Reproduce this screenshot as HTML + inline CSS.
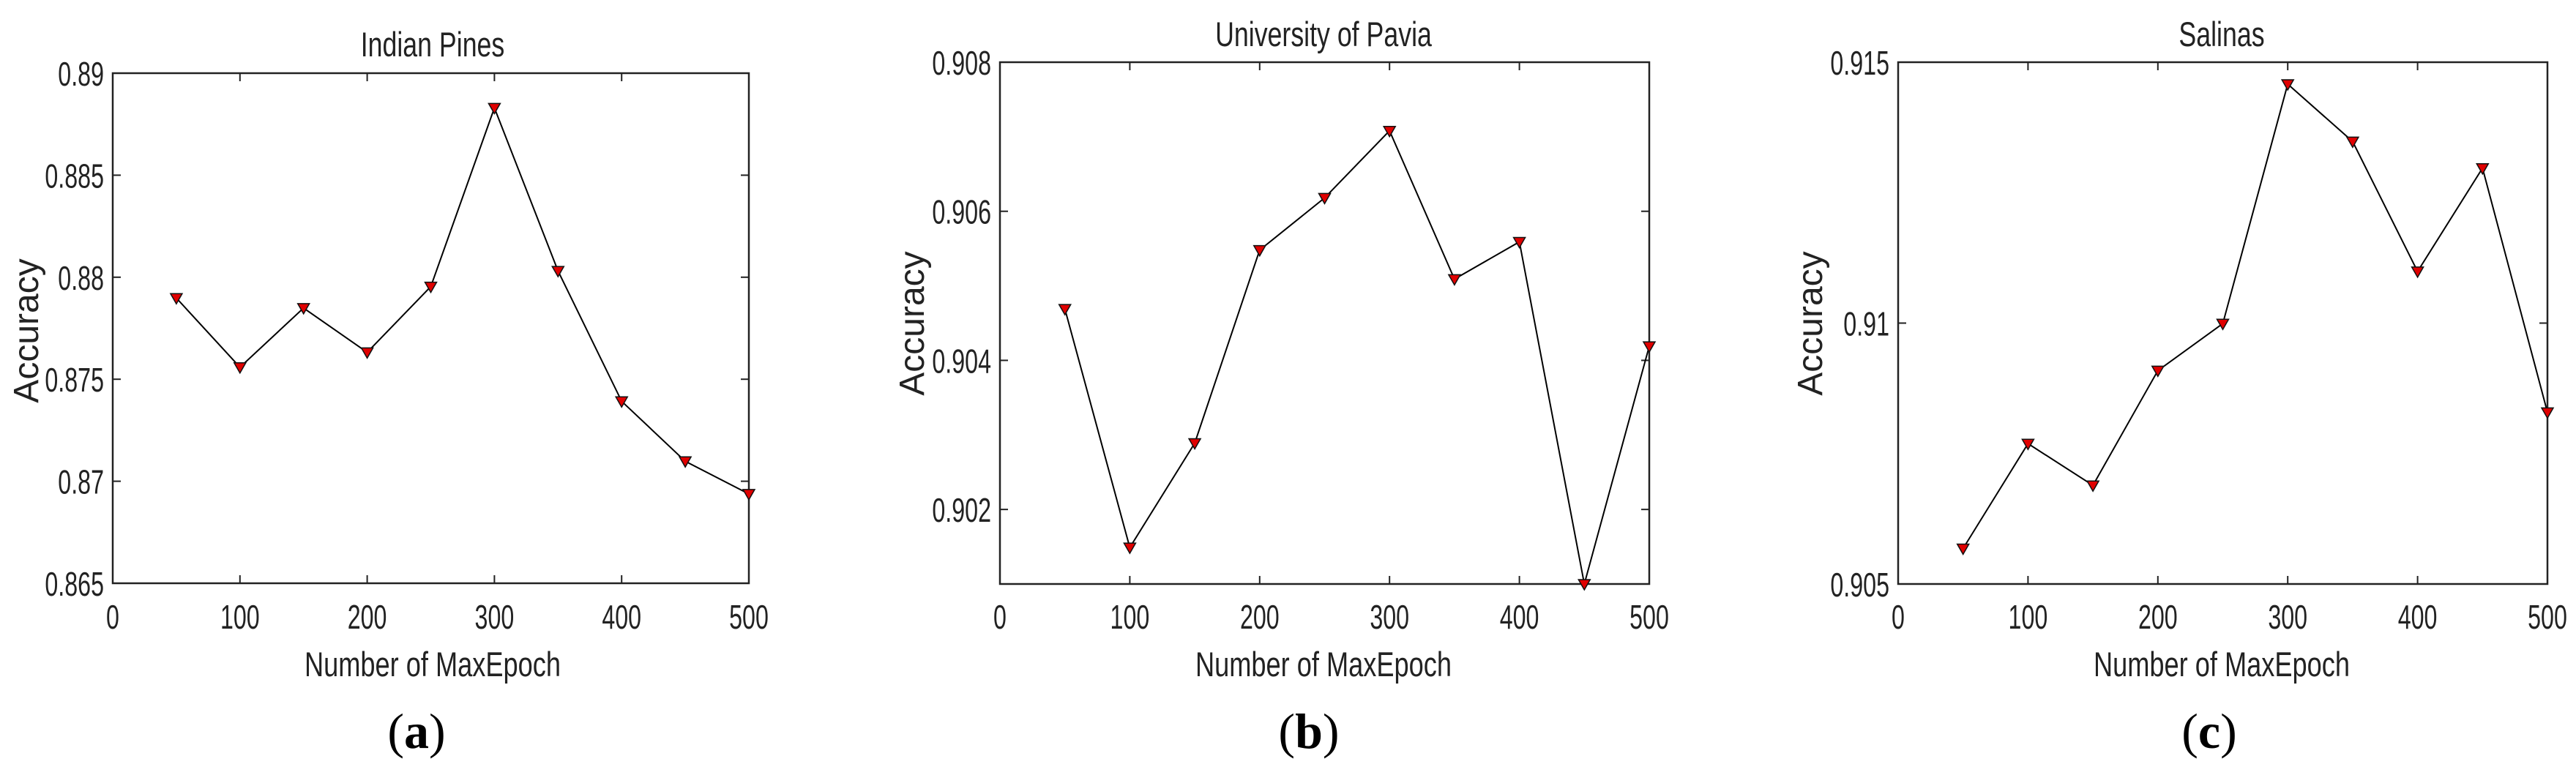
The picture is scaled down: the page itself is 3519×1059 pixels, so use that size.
<!DOCTYPE html>
<html><head><meta charset="utf-8">
<style>
html,body{margin:0;padding:0;background:#fff;}
svg{display:block;}
text{font-family:"Liberation Sans",sans-serif;fill:#222;}
.cap{font-family:"Liberation Serif",serif;fill:#000;}
</style></head>
<body>
<svg id="fig" width="3519" height="1059" viewBox="0 0 3519 1059" xmlns="http://www.w3.org/2000/svg"></svg>
<script>
const epochs = [50,100,150,200,250,300,350,400,450,500];
const xTicks = [0,100,200,300,400,500];
const accIndianPines = [0.87898,0.87559,0.87849,0.87632,0.87954,0.8883,0.88031,0.87392,0.87098,0.86938];
const accPavia = [0.90469,0.90149,0.90289,0.90548,0.90618,0.90708,0.90509,0.90559,0.901,0.90419];
const accSalinas = [0.90568,0.90769,0.90689,0.90909,0.90999,0.91458,0.91348,0.91099,0.91297,0.90829];
const yTicksA = ["0.865","0.87","0.875","0.88","0.885","0.89"];
const yTicksB = ["0.902","0.904","0.906","0.908"];
const yTicksC = ["0.905","0.91","0.915"];
const titles = ["Indian Pines","University of Pavia","Salinas"];
const captions = ["a","b","c"];

const NS = "http://www.w3.org/2000/svg";
const svg = document.getElementById("fig");
function mk(tag, attrs, parent){
  const e = document.createElementNS(NS, tag);
  for (const k in attrs) e.setAttribute(k, attrs[k]);
  (parent||svg).appendChild(e);
  return e;
}
function condensed(t, f){
  const w = t.getComputedTextLength();
  t.setAttribute("textLength", (w*f).toFixed(1));
  t.setAttribute("lengthAdjust", "spacingAndGlyphs");
}

const panels = [
  {L:154,R:1023,T:100,B:797,ymin:0.865,ymax:0.89,data:accIndianPines,yt:yTicksA,titleX:591,titleY:77,ylx:52,yly:452,capX:569},
  {L:1366,R:2253,T:85,B:798,ymin:0.901,ymax:0.908,data:accPavia,yt:yTicksB,titleX:1808,titleY:63,ylx:1262,yly:442,capX:1788},
  {L:2593,R:3480,T:85,B:798,ymin:0.905,ymax:0.915,data:accSalinas,yt:yTicksC,titleX:3035,titleY:63,ylx:2489,yly:442,capX:3018}
];

panels.forEach((p, i) => {
  const g = mk("g", {});
  
  
  const xs = v => p.L + (v - 0) / 500 * (p.R - p.L);
  const ys = v => p.B - (v - p.ymin) / (p.ymax - p.ymin) * (p.B - p.T);

  // axes box
  const box = mk("rect", {x:p.L, y:p.T, width:p.R-p.L, height:p.B-p.T, fill:"none", stroke:"#222", "stroke-width":2.5}, g);
  
  

  // x ticks
  xTicks.forEach(v => {
    const x = xs(v);
    mk("line", {x1:x, y1:p.B, x2:x, y2:p.B-11, stroke:"#222", "stroke-width":2}, g);
    mk("line", {x1:x, y1:p.T, x2:x, y2:p.T+11, stroke:"#222", "stroke-width":2}, g);
    const t = mk("text", {x:x, y:859, "font-size":46, "text-anchor":"middle"}, g);
    t.textContent = String(v);
    
    
    condensed(t, 0.7);
  });
  // y ticks
  p.yt.forEach(s => {
    const y = ys(parseFloat(s));
    mk("line", {x1:p.L, y1:y, x2:p.L+11, y2:y, stroke:"#222", "stroke-width":2}, g);
    mk("line", {x1:p.R, y1:y, x2:p.R-11, y2:y, stroke:"#222", "stroke-width":2}, g);
    const t = mk("text", {x:p.L-12, y:y+17, "font-size":46, "text-anchor":"end"}, g);
    t.textContent = s;
    
    
    condensed(t, 0.7);
  });

  // series line
  const pts = p.data.map((v, k) => xs(epochs[k]).toFixed(1) + "," + ys(v).toFixed(1)).join(" ");
  const line = mk("polyline", {points:pts, fill:"none", stroke:"#000", "stroke-width":2}, g);
  
  
  // markers
  p.data.forEach((v, k) => {
    const cx = xs(epochs[k]), cy = ys(v);
    const m = mk("polygon", {points:`${cx-8},${cy-6} ${cx+8},${cy-6} ${cx},${cy+8}`, fill:"#e00000", stroke:"#111", "stroke-width":1.5}, g);
    
    
  });

  // title
  const tt = mk("text", {x:p.titleX, y:p.titleY, "font-size":47, "text-anchor":"middle"}, g);
  tt.textContent = titles[i];
  
  
  condensed(tt, 0.76);

  // x label
  const xl = mk("text", {x:p.titleX, y:924, "font-size":47, "text-anchor":"middle"}, g);
  xl.textContent = "Number of MaxEpoch";
  
  
  condensed(xl, 0.77);

  // y label
  const yl = mk("text", {x:p.ylx, y:p.yly, "font-size":48, "text-anchor":"middle", transform:`rotate(-90 ${p.ylx} ${p.yly})`}, g);
  yl.textContent = "Accuracy";
  
  
  yl.setAttribute("dx", "0");
  yl.setAttribute("dy", "0");

  // caption
  const cap = mk("text", {x:p.capX, y:1022, "font-size":68, "text-anchor":"middle", class:"cap"}, g);
  
  
  const o = mk("tspan", {}, cap); o.textContent = "(";
  const b = mk("tspan", {"font-weight":"bold"}, cap); b.textContent = captions[i];
  const c = mk("tspan", {}, cap); c.textContent = ")";
});
</script>
</body></html>
